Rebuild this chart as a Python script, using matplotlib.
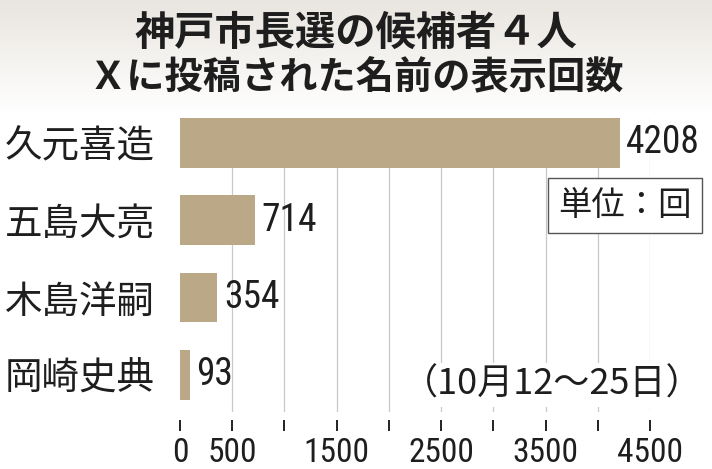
import matplotlib.pyplot as plt
import numpy as np

plt.rcParams['font.family'] = ['Noto Sans CJK JP', 'DejaVu Sans']

names = ['久元喜造', '五島大亮', '木島洋嗣', '岡崎史典']
counts = [4208, 714, 354, 93]
xticks = [0, 500, 1000, 1500, 2000, 2500, 3000, 3500, 4000, 4500]
xticklabels = ['0', '500', '', '1500', '', '2500', '', '3500', '', '4500']
title1 = '神戸市長選の候補者４人'
title2 = 'Ｘに投稿された名前の表示回数'
unit = '単位：回'
period = '（10月12～25日）'

bar_color = '#bba886'
text_color = '#1e1e1e'
num_font = ['Roboto Condensed', 'DejaVu Sans']

W, H = 712, 469
fig = plt.figure(figsize=(W / 100, H / 100), dpi=100)
fig.patch.set_facecolor('white')

# title background gradient
bg = fig.add_axes([0, 0.76, 1, 0.24], zorder=0)
grad = np.linspace(0, 1, 100).reshape(-1, 1)
bg.imshow(grad, aspect='auto', cmap=plt.matplotlib.colors.LinearSegmentedColormap.from_list(
    'g', ['#e9e5df', '#ffffff']), extent=[0, 1, 0, 1])
bg.axis('off')

fig.text(0.5, 1 - 33 / H, title1, ha='center', va='center', fontsize=29,
         fontweight='bold', color=text_color)
fig.text(0.5, 1 - 78 / H, title2, ha='center', va='center', fontsize=27.5,
         fontweight='bold', color=text_color)

ax = fig.add_axes([180 / W, 1 - 412 / H, 470 / W, (412 - 118) / H], zorder=1)
ax.set_facecolor('none')
# move bottom spine (and ticks) below the grid first, it resets tick labels
ax.spines['bottom'].set_position(('outward', 5.5))
for s in ax.spines.values():
    s.set_visible(False)

y = np.arange(len(names))
ax.barh(y, counts, height=0.64, color=bar_color, zorder=2)
ax.set_xlim(0, 4500)
ax.set_ylim(3.48, -0.32)

for xv in xticks[1:]:
    ax.axvline(xv, color='#c8c8c8', lw=0.9, zorder=1)

for yi, c in zip(y, counts):
    ax.text(c + 65, yi, str(c), va='center', ha='left', fontsize=27,
            family=num_font, color=text_color, clip_on=False)

ax.set_yticks(y)
ax.set_yticklabels(names, fontsize=27, color=text_color)
ax.tick_params(axis='y', length=0, pad=18)

ax.set_xticks(xticks)
ax.set_xticklabels(xticklabels, fontsize=24, family=num_font, color=text_color)
ax.tick_params(axis='x', length=8, width=1.4, color='#222222', pad=4.5)

ax.text(4260, 0.81, unit, ha='center', va='center', fontsize=24, color=text_color,
        bbox=dict(boxstyle='square,pad=0.3', fc='white', ec='#555555', lw=1.0), zorder=3)
ax.text(3562, 3.13, period, ha='center', va='center', fontsize=26, color=text_color,
        bbox=dict(boxstyle='square,pad=0.1', fc='white', ec='none'), zorder=3)

fig.savefig('out.png', dpi=100)
